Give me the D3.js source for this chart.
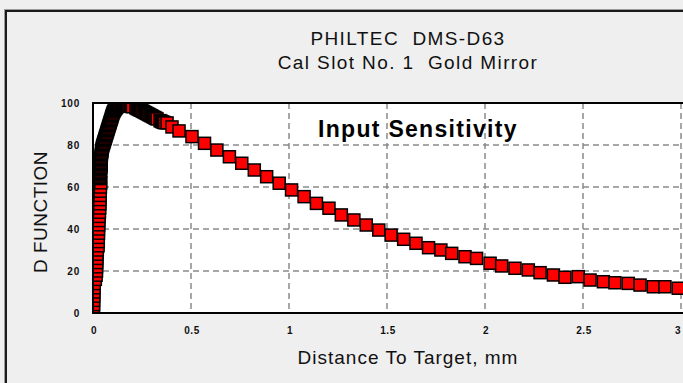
<!DOCTYPE html>
<html>
<head>
<meta charset="utf-8">
<script src="https://cdn.jsdelivr.net/npm/d3@7"></script>
<style>
  html, body { margin: 0; padding: 0; background: #efefef; overflow: hidden; }
  text { font-family: "Liberation Sans", Arial, sans-serif; }
</style>
</head>
<body>
<div id="chart"></div>
<script>
// distance to target (mm) and D function readings, in sample order
const distance = [
  0.002, 0.002, 0.003, 0.003, 0.004, 0.004, 0.005, 0.006, 0.012, 0.016,
  0.018, 0.018, 0.019, 0.020, 0.020, 0.022, 0.026, 0.027, 0.027, 0.028,
  0.028, 0.029, 0.030, 0.031, 0.033, 0.034, 0.035, 0.035, 0.036, 0.037,
  0.038, 0.040,
  0.036, 0.036, 0.037, 0.037, 0.037, 0.038, 0.038, 0.038, 0.039, 0.039,
  0.039, 0.040, 0.040, 0.040, 0.041, 0.041, 0.041, 0.042, 0.042, 0.043,
  0.043, 0.044, 0.045, 0.046, 0.047, 0.048, 0.050, 0.052, 0.054, 0.056,
  0.058, 0.060, 0.062, 0.064, 0.066, 0.068, 0.070, 0.072, 0.074, 0.076,
  0.078, 0.080, 0.082, 0.084, 0.086, 0.088, 0.090, 0.092, 0.094, 0.096,
  0.098, 0.100, 0.102, 0.105, 0.108, 0.111, 0.114, 0.117, 0.121, 0.125,
  0.129, 0.133, 0.137, 0.142, 0.147, 0.152, 0.157, 0.162, 0.167, 0.172,
  0.177, 0.183, 0.189, 0.195, 0.201, 0.219, 0.225, 0.231, 0.237, 0.243,
  0.249, 0.255, 0.261, 0.267, 0.273, 0.279, 0.285, 0.291, 0.297, 0.303,
  0.309, 0.315, 0.321, 0.327, 0.342, 0.348, 0.354, 0.360, 0.366, 0.378,
  0.403, 0.439, 0.505, 0.569, 0.632, 0.696, 0.759, 0.823, 0.886, 0.950,
  1.013, 1.077, 1.140, 1.204, 1.267, 1.331, 1.394, 1.458, 1.521, 1.585,
  1.648, 1.712, 1.775, 1.830, 1.898, 1.957, 2.026, 2.085, 2.153, 2.221,
  2.281, 2.349, 2.408, 2.476, 2.536, 2.604, 2.663, 2.731, 2.791, 2.859,
  2.918, 2.986, 3.050
];
const dFunction = [
  0.5, 2, 4, 6, 8, 10, 12, 14, 16, 18,
  20, 22, 24, 26, 28, 30, 32, 34, 36, 38,
  40, 42, 44, 46, 48, 50, 52, 54, 56, 58,
  60, 62,
  64.0, 64.6, 65.2, 65.8, 66.4, 67.0, 67.6, 68.2, 68.8, 69.4,
  70.0, 70.6, 71.2, 71.8, 72.4, 73.0, 73.6, 74.2, 74.8, 75.4,
  76.0, 76.6, 77.2, 77.8, 78.4, 79.0, 79.6, 80.2, 80.8, 81.4,
  82.0, 82.6, 83.2, 83.8, 84.4, 85.0, 85.6, 86.2, 86.8, 87.4,
  88.0, 88.6, 89.2, 89.8, 90.4, 91.0, 91.6, 92.2, 92.8, 93.4,
  94.0, 94.6, 95.2, 95.8, 96.3, 96.8, 97.2, 97.6, 98.0, 98.4,
  98.7, 99.0, 99.2, 99.4, 99.5, 99.6, 99.6, 99.5, 99.4, 99.2,
  99.0, 98.8, 98.6, 98.4, 98.2, 97.7, 97.4, 97.1, 96.8, 96.6,
  96.3, 96.0, 95.7, 95.4, 95.1, 94.8, 94.5, 94.2, 93.9, 93.6,
  93.3, 93.0, 92.7, 92.4, 91.6, 91.3, 91.0, 90.8, 90.6, 90.5,
  88.6, 86.7, 84.0, 80.8, 77.6, 74.4, 71.3, 68.1, 64.9, 61.8,
  58.6, 55.4, 52.2, 49.9, 46.7, 44.3, 41.9, 39.5, 37.1, 35.1,
  33.2, 31.1, 30.0, 28.4, 26.8, 26.0, 23.7, 22.4, 21.3, 20.5,
  19.2, 18.1, 17.0, 17.3, 15.7, 14.9, 14.4, 14.1, 13.3, 12.5,
  12.5, 11.8, 11.5
];
const xTicks = [0, 0.5, 1, 1.5, 2, 2.5, 3];
const yTicks = [0, 20, 40, 60, 80, 100];
const titleLines = ["PHILTEC  DMS-D63", "Cal Slot No. 1  Gold Mirror"];

const W = 683, H = 383;
const PLOT = {left: 93, top: 103, bottom: 313, right: 720};

const svg = d3.select("#chart").append("svg")
    .attr("width", W)
    .attr("height", H);

// outer panel frame (runs off the right and bottom edges)
svg.append("rect")
    .attr("x", 4.5).attr("y", 9.5)
    .attr("width", W + 20).attr("height", H + 20)
    .attr("fill", "none")
    .attr("stroke", "#9a9a9a")
    .attr("stroke-width", 1);
svg.append("rect")
    .attr("x", 6).attr("y", 11)
    .attr("width", W + 20).attr("height", H + 20)
    .attr("fill", "none")
    .attr("stroke", "#1a1a1a")
    .attr("stroke-width", 2);

const x = d3.scaleLinear()
    .domain([0, 3])
    .range([PLOT.left, 681]);
const y = d3.scaleLinear()
    .domain([0, 100])
    .range([PLOT.bottom, PLOT.top]);

// titles
svg.selectAll(".title")
    .data(titleLines)
    .enter().append("text")
    .attr("class", "title")
    .attr("x", 408)
    .attr("y", (d, i) => 45 + i * 24)
    .attr("text-anchor", "middle")
    .attr("font-size", 19)
    .attr("letter-spacing", 1.4)
    .attr("fill", "#111")
    .style("white-space", "pre")
    .text(d => d);

// plot background
svg.append("rect")
    .attr("x", PLOT.left).attr("y", PLOT.top)
    .attr("width", PLOT.right - PLOT.left)
    .attr("height", PLOT.bottom - PLOT.top)
    .attr("fill", "#fff");

svg.append("clipPath").attr("id", "plot-clip")
    .append("rect")
    .attr("x", PLOT.left).attr("y", PLOT.top)
    .attr("width", PLOT.right - PLOT.left)
    .attr("height", PLOT.bottom - PLOT.top);

// dashed grid
const grid = svg.append("g").attr("id", "Grid")
    .attr("stroke", "#8a8a8a")
    .attr("stroke-width", 1.5)
    .attr("stroke-dasharray", "6,4");
grid.selectAll(".gx")
    .data(xTicks.filter(d => d > 0))
    .enter().append("line")
    .attr("x1", d => x(d)).attr("x2", d => x(d))
    .attr("y1", PLOT.top).attr("y2", PLOT.bottom);
grid.selectAll(".gy")
    .data(yTicks.filter(d => d > 0 && d < 100))
    .enter().append("line")
    .attr("x1", PLOT.left).attr("x2", PLOT.right)
    .attr("y1", d => y(d)).attr("y2", d => y(d));

// "Input Sensitivity" label
svg.append("text")
    .attr("x", 318)
    .attr("y", 137)
    .attr("font-size", 23)
    .attr("font-weight", "bold")
    .attr("letter-spacing", 1.3)
    .attr("fill", "#000")
    .text("Input Sensitivity");

// data squares
const points = distance.map((d, i) => ({x: d, y: dFunction[i]}));
const S = 12;
svg.append("g")
    .attr("id", "Points")
    .attr("clip-path", "url(#plot-clip)")
    .selectAll("rect")
    .data(points)
    .enter().append("rect")
    .attr("x", d => x(d.x) - S / 2)
    .attr("y", d => y(d.y) - S / 2)
    .attr("width", S)
    .attr("height", S)
    .attr("fill", "#ff0000")
    .attr("stroke", "#000")
    .attr("stroke-width", 1.5);

// plot frame: left, top, bottom
svg.append("path")
    .attr("d", `M${PLOT.right},${PLOT.top}H${PLOT.left}V${PLOT.bottom}H${PLOT.right}`)
    .attr("fill", "none")
    .attr("stroke", "#000")
    .attr("stroke-width", 2);

// tick labels
svg.append("g").attr("id", "Y Axis")
    .selectAll("text")
    .data(yTicks)
    .enter().append("text")
    .attr("x", 80)
    .attr("y", d => y(d) + 4)
    .attr("text-anchor", "end")
    .attr("font-size", 10)
    .attr("font-weight", "bold")
    .attr("letter-spacing", 0.8)
    .attr("fill", "#111")
    .text(d => d);

svg.append("g").attr("id", "X Axis")
    .selectAll("text")
    .data(xTicks)
    .enter().append("text")
    .attr("x", d => Math.min(x(d) + 1, 678))
    .attr("y", 334)
    .attr("text-anchor", "middle")
    .attr("font-size", 10)
    .attr("font-weight", "bold")
    .attr("letter-spacing", 0.5)
    .attr("fill", "#111")
    .text(d => d);

// axis titles
svg.append("text")
    .attr("x", 408)
    .attr("y", 364)
    .attr("text-anchor", "middle")
    .attr("font-size", 19)
    .attr("letter-spacing", 1)
    .attr("fill", "#111")
    .text("Distance To Target, mm");

svg.append("text")
    .attr("transform", "translate(47,212) rotate(-90)")
    .attr("text-anchor", "middle")
    .attr("font-size", 19)
    .attr("letter-spacing", 0.5)
    .attr("fill", "#111")
    .text("D FUNCTION");
</script>
</body>
</html>
